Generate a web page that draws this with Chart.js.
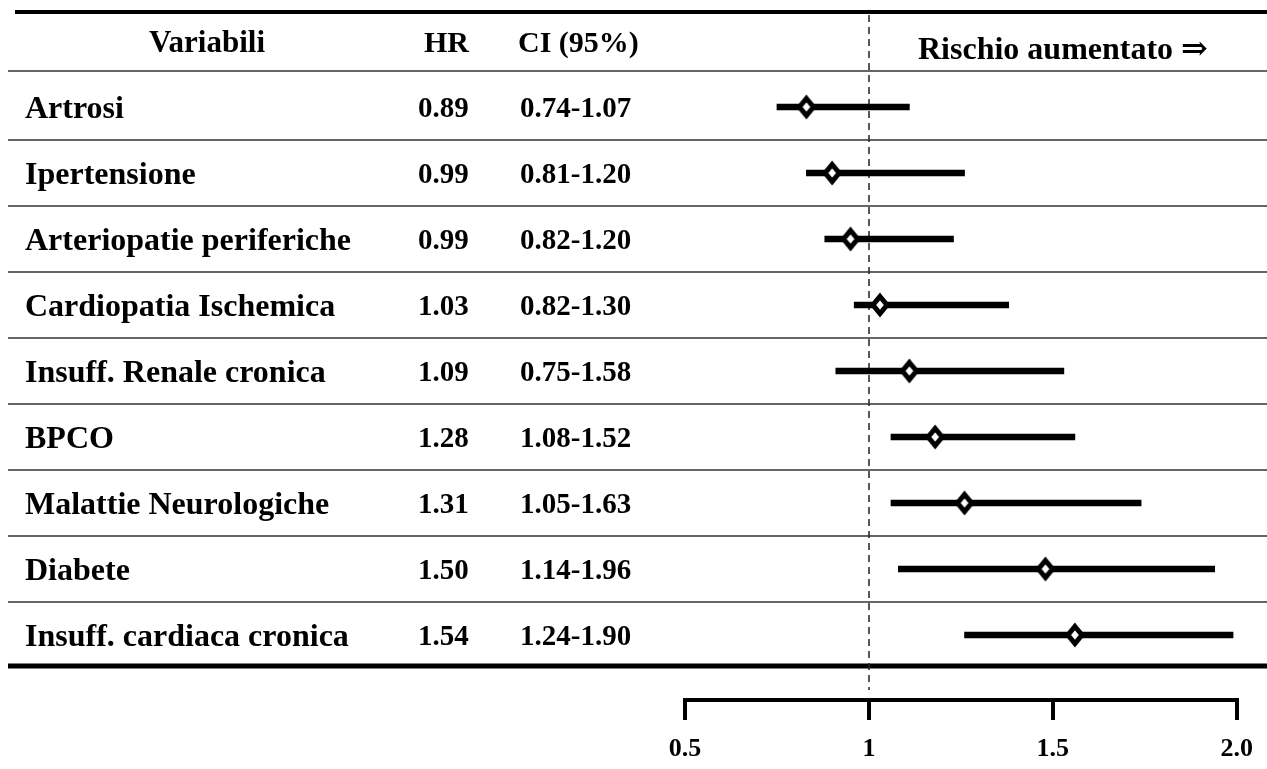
<!DOCTYPE html>
<html>
<head>
<meta charset="utf-8">
<script src="https://cdn.jsdelivr.net/npm/chart.js@4"></script>
<style>
  html, body { margin: 0; padding: 0; background: #fff; }
  canvas { display: block; }
</style>
</head>
<body>
<canvas id="forest" width="1267" height="769"></canvas>
<script>
const categories = [
  "Artrosi", "Ipertensione", "Arteriopatie periferiche", "Cardiopatia Ischemica",
  "Insuff. Renale cronica", "BPCO", "Malattie Neurologiche", "Diabete", "Insuff. cardiaca cronica"
];
const hrText = ["0.89", "0.99", "0.99", "1.03", "1.09", "1.28", "1.31", "1.50", "1.54"];
const ciText = ["0.74-1.07", "0.81-1.20", "0.82-1.20", "0.82-1.30", "0.75-1.58", "1.08-1.52", "1.05-1.63", "1.14-1.96", "1.24-1.90"];

// marks as they are placed in the figure
const hrMark = [0.83, 0.90, 0.95, 1.03, 1.11, 1.18, 1.26, 1.48, 1.56];
const ciLow  = [0.75, 0.83, 0.88, 0.96, 0.91, 1.06, 1.06, 1.08, 1.26];
const ciHigh = [1.11, 1.26, 1.23, 1.38, 1.53, 1.56, 1.74, 1.94, 1.99];

const tickValues = [0.5, 1, 1.5, 2.0];
const tickLabels = ["0.5", "1", "1.5", "2.0"];
const headers = ["Variabili", "HR", "CI (95%)", "Rischio aumentato \u21D2"];

const serif = '"Liberation Serif", "Times New Roman", "DejaVu Serif", serif';

// open diamond used as point style
const diamond = document.createElement("canvas");
diamond.width = 24;
diamond.height = 30;
{
  const d = diamond.getContext("2d");
  d.beginPath();
  d.moveTo(12, 6.5);
  d.lineTo(19, 15);
  d.lineTo(12, 23.5);
  d.lineTo(5, 15);
  d.closePath();
  d.fillStyle = "#fff";
  d.fill();
  d.lineWidth = 5;
  d.strokeStyle = "#000";
  d.stroke();
}

const line = (ctx, x1, y1, x2, y2) => {
  ctx.beginPath();
  ctx.moveTo(x1, y1);
  ctx.lineTo(x2, y2);
  ctx.stroke();
};

const tablePlugin = {
  id: "table",
  beforeDatasetsDraw(chart) {
    const { ctx, width, scales: { x, y } } = chart;
    ctx.save();

    // row separators
    ctx.strokeStyle = "#333";
    ctx.lineWidth = 1.5;
    for (let i = 0; i < categories.length; i++) {
      const py = Math.round(y.getPixelForValue(i - 0.5)) - (i === 0 ? 3 : 0);
      line(ctx, 8, py, width, py);
    }
    // heavy top and bottom rules
    ctx.strokeStyle = "#000";
    ctx.lineWidth = 4;
    line(ctx, 15, 12, width, 12);
    const bottom = Math.round(y.getPixelForValue(categories.length - 0.5)) - 2;
    ctx.lineWidth = 5;
    line(ctx, 8, bottom, width, bottom);

    // reference line at HR = 1
    const x1 = Math.round(x.getPixelForValue(1));
    ctx.strokeStyle = "#222";
    ctx.lineWidth = 1.5;
    ctx.setLineDash([7, 5]);
    line(ctx, x1, 15, x1, 690);
    ctx.setLineDash([]);

    // table text
    ctx.fillStyle = "#000";
    ctx.textBaseline = "middle";
    ctx.font = "bold 31px " + serif;
    ctx.textAlign = "center";
    ctx.fillText(headers[0], 207, 44);
    ctx.textAlign = "left";
    ctx.font = "bold 30px " + serif;
    ctx.fillText(headers[1], 424, 44);
    ctx.fillText(headers[2], 518, 44);
    ctx.font = "bold 32px " + serif;
    ctx.fillText(headers[3], 918, 51);

    categories.forEach((name, i) => {
      const py = y.getPixelForValue(i) + 3;
      ctx.font = "bold 32px " + serif;
      ctx.fillText(name, 25, py);
      ctx.font = "bold 29px " + serif;
      ctx.fillText(hrText[i], 418, py);
      ctx.fillText(ciText[i], 520, py);
    });
    ctx.restore();
  }
};

new Chart(document.getElementById("forest"), {
  type: "bar",
  data: {
    datasets: [
      {
        type: "scatter",
        data: categories.map((c, i) => ({ x: hrMark[i], y: i })),
        pointStyle: diamond,
        pointRadius: 10,
        order: 1
      },
      {
        type: "bar",
        indexAxis: "y",
        data: categories.map((c, i) => ({ y: i, x: [ciLow[i], ciHigh[i]] })),
        backgroundColor: "#000",
        borderWidth: 0,
        barThickness: 6,
        order: 2
      }
    ]
  },
  options: {
    responsive: false,
    devicePixelRatio: 1,
    animation: false,
    layout: { padding: { left: 685, right: 30, top: 74, bottom: 0 } },
    plugins: { legend: { display: false }, tooltip: { enabled: false } },
    scales: {
      x: {
        type: "linear",
        position: "bottom",
        offset: false,
        min: 0.5,
        max: 2.0,
        afterBuildTicks: s => { s.ticks = tickValues.map(v => ({ value: v })); },
        afterFit: s => { s.height = 69; },
        ticks: {
          autoSkip: false,
          maxRotation: 0,
          padding: 14,
          color: "#000",
          font: { family: serif, size: 26, weight: "bold" },
          callback: (v, i) => tickLabels[i]
        },
        grid: { offset: false, drawOnChartArea: false, drawTicks: true, tickLength: 20, lineWidth: 4, color: "#000" },
        border: { display: true, color: "#000", width: 4 }
      },
      y: {
        type: "linear",
        display: false,
        offset: false,
        grid: { offset: false },
        reverse: true,
        min: -0.5,
        max: 8.985
      }
    }
  },
  plugins: [tablePlugin]
});
</script>
</body>
</html>
